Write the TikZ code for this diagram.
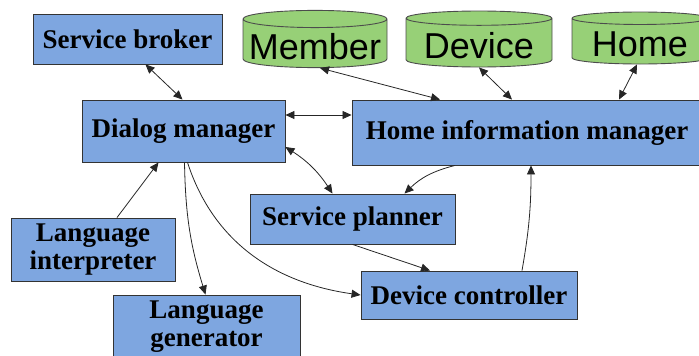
\documentclass[tikz,border=0pt]{standalone}
\usepackage{fontspec}
\setmainfont{Liberation Serif}
\newfontfamily\storefont{Liberation Sans}
\usetikzlibrary{shapes.geometric,arrows.meta}
\definecolor{boxblue}{HTML}{7EA6E0}
\definecolor{storegreen}{HTML}{97D077}

\begin{document}
\begin{tikzpicture}[x=1pt, y=1pt,
    box/.style={draw=black!80, fill=boxblue, line width=0.9pt, inner sep=0pt, align=center,
      font=\fontsize{27}{28}\selectfont\bfseries},
    store/.style={cylinder, shape border rotate=90, aspect=0.13, anchor=shape center,
      draw=black!70, fill=storegreen, line width=0.9pt, inner sep=0pt,
      text height=31, text depth=0, font=\storefont\fontsize{36}{36}\selectfont},
    link/.style={line width=0.8pt, draw=black!85, >={Triangle[length=9pt,width=8pt]}}]
    \useasboundingbox (0,0) rectangle (699,-356);
    \clip (0,0) rectangle (699,-356);
    \node[box, minimum width=189, minimum height=50] (broker) at (127.5,-39) {Service broker};
    \node[box, minimum width=203, minimum height=62] (dialog) at (183.5,-131) {Dialog manager};
    \node[box, minimum width=350, minimum height=65] (info) at (527,-132.5) {Home information manager};
    \node[box, minimum width=205, minimum height=50] (planner) at (352.5,-219) {Service planner};
    \node[box, minimum width=216, minimum height=48] (ctrl) at (469,-295) {Device controller};
    \node[box, minimum width=164, minimum height=63] (interp) at (93,-249.5) {Language\\interpreter};
    \node[box, minimum width=187, minimum height=63] (gen) at (206.5,-326.5) {Language\\generator};
    \node[store, minimum width=144, minimum height=56] (member) at (315,-39) {Member};
    \node[store, minimum width=146, minimum height=56] (device) at (479,-39) {Device};
    \node[store, minimum width=136, minimum height=52] (house) at (640,-38) {Home};
    \draw[link, <->] ([xshift=18]broker.south) -- ([xshift=-1]dialog.north);
    \draw[link, <->] ([xshift=5]member.south) -- ([xshift=-87]info.north);
    \draw[link, <->] (device.south) -- ([xshift=-15]info.north);
    \draw[link, <->] ([xshift=-3]house.south) -- ([xshift=92]info.north);
    \draw[link, <->] ([yshift=16]dialog.east) -- ([yshift=17.5]info.west);
    \draw[link, <->] ([yshift=-16]dialog.east) to[bend left=12] ([xshift=-20]planner.north);
    \draw[link, ->] ([xshift=-72]info.south) to[bend right=15] ([xshift=52]planner.north);
    \draw[link, ->] ([xshift=24]interp.north) -- ([xshift=-25]dialog.south);
    \draw[link, ->] ([xshift=1]dialog.south) to[bend right=8] ([xshift=-1]gen.north);
    \draw[link, ->] ([xshift=4]dialog.south) to[out=-72, in=172] (ctrl.west);
    \draw[link, ->] (planner.south) -- ([xshift=-39]ctrl.north);
    \draw[link, ->] ([xshift=53]ctrl.north) to[out=80, in=-90] ([xshift=4]info.south);
\end{tikzpicture}
\end{document}
